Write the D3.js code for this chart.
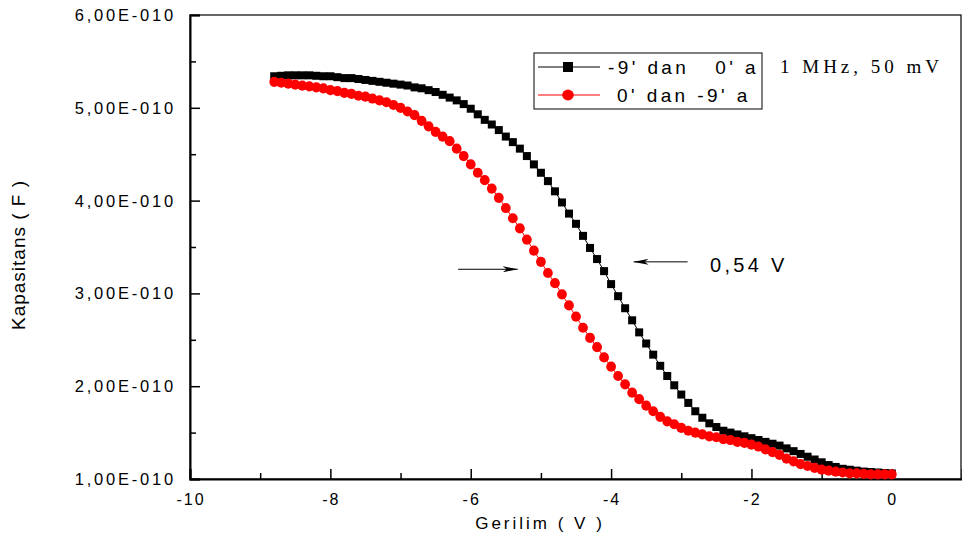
<!DOCTYPE html>
<html>
<head>
<meta charset="utf-8">
<script src="https://cdn.jsdelivr.net/npm/d3@7"></script>
<style>
body { margin: 0; background: #fff; }
svg { display: block; }
text { font-family: Arial, "Liberation Sans", sans-serif; fill: #000; }
</style>
</head>
<body>
<div id="chart"></div>
<script>
// voltage steps (V)
const voltage = [-8.8, -8.7, -8.6, -8.5, -8.4, -8.3, -8.2, -8.1, -8.0, -7.9,
  -7.8, -7.7, -7.6, -7.5, -7.4, -7.3, -7.2, -7.1, -7.0, -6.9,
  -6.8, -6.7, -6.6, -6.5, -6.4, -6.3, -6.2, -6.1, -6.0, -5.9,
  -5.8, -5.7, -5.6, -5.5, -5.4, -5.3, -5.2, -5.1, -5.0, -4.9,
  -4.8, -4.7, -4.6, -4.5, -4.4, -4.3, -4.2, -4.1, -4.0, -3.9,
  -3.8, -3.7, -3.6, -3.5, -3.4, -3.3, -3.2, -3.1, -3.0, -2.9,
  -2.8, -2.7, -2.6, -2.5, -2.4, -2.3, -2.2, -2.1, -2.0, -1.9,
  -1.8, -1.7, -1.6, -1.5, -1.4, -1.3, -1.2, -1.1, -1.0, -0.9,
  -0.8, -0.7, -0.6, -0.5, -0.4, -0.3, -0.2, -0.1, 0.0];

// capacitance, units of 1E-10 F
// -9'dan 0'a (black squares)
const capBlack = [5.34, 5.345, 5.35, 5.35, 5.35, 5.35, 5.345, 5.34, 5.34, 5.33,
  5.32, 5.32, 5.31, 5.30, 5.29, 5.28, 5.27, 5.26, 5.25, 5.24,
  5.22, 5.21, 5.19, 5.17, 5.14, 5.11, 5.08, 5.04, 4.99, 4.93,
  4.87, 4.82, 4.76, 4.69, 4.63, 4.56, 4.48, 4.39, 4.30, 4.21,
  4.10, 3.98, 3.86, 3.75, 3.62, 3.49, 3.37, 3.24, 3.10, 2.97,
  2.84, 2.71, 2.58, 2.46, 2.34, 2.22, 2.11, 2.01, 1.91, 1.82,
  1.73, 1.66, 1.60, 1.56, 1.52, 1.50, 1.48, 1.46, 1.44, 1.42,
  1.40, 1.38, 1.36, 1.33, 1.30, 1.27, 1.24, 1.21, 1.18, 1.15,
  1.13, 1.11, 1.10, 1.09, 1.08, 1.075, 1.07, 1.065, 1.06];
// 0'dan -9'a (red circles)
const capRed = [5.28, 5.27, 5.26, 5.25, 5.24, 5.23, 5.22, 5.21, 5.19, 5.18,
  5.16, 5.15, 5.13, 5.12, 5.10, 5.08, 5.06, 5.03, 5.00, 4.96,
  4.92, 4.86, 4.80, 4.74, 4.69, 4.64, 4.56, 4.48, 4.39, 4.30,
  4.22, 4.13, 4.03, 3.92, 3.81, 3.70, 3.58, 3.46, 3.34, 3.22,
  3.11, 2.99, 2.87, 2.75, 2.63, 2.52, 2.42, 2.31, 2.21, 2.11,
  2.02, 1.93, 1.86, 1.79, 1.73, 1.67, 1.62, 1.59, 1.55, 1.52,
  1.50, 1.48, 1.46, 1.45, 1.43, 1.42, 1.40, 1.39, 1.37, 1.35,
  1.32, 1.29, 1.26, 1.22, 1.19, 1.16, 1.14, 1.12, 1.10, 1.09,
  1.08, 1.07, 1.06, 1.06, 1.055, 1.05, 1.05, 1.05, 1.05];

const xTicks = [-10, -8, -6, -4, -2, 0];
const xMinor = [-9, -7, -5, -3, -1, 1];
const yTicks = [1, 2, 3, 4, 5, 6];
const yTickLabels = ["1,00E-010", "2,00E-010", "3,00E-010", "4,00E-010", "5,00E-010", "6,00E-010"];
const yMinor = [1.5, 2.5, 3.5, 4.5, 5.5];
const seriesNames = ["-9' dan   0' a", "0' dan -9' a"];

var svgWidth = 962, svgHeight = 554;

var svg = d3.select("#chart").append("svg")
  .attr("width", svgWidth).attr("height", svgHeight);

var x = d3.scaleLinear().domain([-10, 1]).range([190, 962]);
var y = d3.scaleLinear().domain([1, 6]).range([479, 15]);

// frame
svg.append("rect")
  .attr("x", x(-10)).attr("y", y(6))
  .attr("width", x(1) - x(-10) - 1).attr("height", y(1) - y(6))
  .attr("fill", "none").attr("stroke", "#000").attr("stroke-width", 1.2);

// bottom axis (ticks inward)
var xAxis = svg.append("g").attr("transform", "translate(0," + y(1) + ")")
  .call(d3.axisBottom(x).tickValues(xTicks).tickSize(-10).tickFormat(""));
xAxis.select(".domain").attr("stroke-width", 2);
xAxis.selectAll(".tick line").attr("stroke-width", 1.5);
svg.append("g").attr("transform", "translate(0," + y(1) + ")")
  .call(d3.axisBottom(x).tickValues(xMinor).tickSize(-6).tickFormat(""))
  .call(g => g.select(".domain").remove())
  .selectAll(".tick line").attr("stroke-width", 1.5);
svg.selectAll(".xlab").data(xTicks).enter().append("text")
  .attr("class", "xlab")
  .attr("x", d => x(d) + 1).attr("y", 505)
  .attr("text-anchor", "middle")
  .style("font-size", "16px").style("letter-spacing", "2px")
  .text(d => d);

// left axis
var yAxis = svg.append("g").attr("transform", "translate(" + x(-10) + ",0)")
  .call(d3.axisLeft(y).tickValues(yTicks).tickSize(-10).tickFormat(""));
yAxis.select(".domain").attr("stroke-width", 2);
yAxis.selectAll(".tick line").attr("stroke-width", 1.5);
svg.append("g").attr("transform", "translate(" + x(-10) + ",0)")
  .call(d3.axisLeft(y).tickValues(yMinor).tickSize(-6).tickFormat(""))
  .call(g => g.select(".domain").remove())
  .selectAll(".tick line").attr("stroke-width", 1.5);
svg.selectAll(".ylab").data(yTicks).enter().append("text")
  .attr("class", "ylab")
  .attr("x", 176).attr("y", d => y(d) + 6)
  .attr("text-anchor", "end")
  .style("font-size", "16.5px").style("letter-spacing", "2.8px")
  .text((d, i) => yTickLabels[i]);

// axis titles
svg.append("text")
  .attr("x", 540).attr("y", 529)
  .attr("text-anchor", "middle")
  .style("font-size", "17px").style("letter-spacing", "3px")
  .text("Gerilim ( V )");
svg.append("text")
  .attr("transform", "translate(25,255) rotate(-90)")
  .attr("text-anchor", "middle")
  .style("font-size", "19px").style("letter-spacing", "1px")
  .text("Kapasitans ( F )");

// data
var dataBlack = voltage.map((v, i) => ({x: v, y: capBlack[i]}));
var dataRed = voltage.map((v, i) => ({x: v, y: capRed[i]}));
var line = d3.line().x(d => x(d.x)).y(d => y(d.y));

svg.append("path").datum(dataBlack)
  .attr("d", line).attr("fill", "none").attr("stroke", "#000").attr("stroke-width", 1);
svg.append("g").selectAll("rect").data(dataBlack).enter().append("rect")
  .attr("x", d => x(d.x) - 4).attr("y", d => y(d.y) - 4)
  .attr("width", 8).attr("height", 8)
  .attr("fill", "#000");

svg.append("path").datum(dataRed)
  .attr("d", line).attr("fill", "none").attr("stroke", "#ff0000").attr("stroke-width", 1);
svg.append("g").selectAll("ellipse").data(dataRed).enter().append("ellipse")
  .attr("cx", d => x(d.x)).attr("cy", d => y(d.y))
  .attr("rx", 4.9).attr("ry", 5.1)
  .attr("fill", "#ff0000");

// legend
var legend = svg.append("g");
legend.append("rect")
  .attr("x", 534).attr("y", 53).attr("width", 228).attr("height", 56)
  .attr("fill", "#fff").attr("stroke", "#000").attr("stroke-width", 1);
legend.append("line").attr("x1", 538).attr("x2", 600).attr("y1", 67).attr("y2", 67)
  .attr("stroke", "#000").attr("stroke-width", 1);
legend.append("rect").attr("x", 563).attr("y", 62).attr("width", 10).attr("height", 10)
  .attr("fill", "#000");
legend.append("line").attr("x1", 538).attr("x2", 600).attr("y1", 95).attr("y2", 95)
  .attr("stroke", "#ff0000").attr("stroke-width", 1);
legend.append("ellipse").attr("cx", 568).attr("cy", 95).attr("rx", 5.8).attr("ry", 5.4)
  .attr("fill", "#ff0000");
legend.append("text").attr("x", 608).attr("y", 74)
  .style("font-size", "19px").style("letter-spacing", "3.4px").style("white-space", "pre")
  .attr("xml:space", "preserve")
  .text(seriesNames[0]);
legend.append("text").attr("x", 617).attr("y", 102)
  .style("font-size", "19px").style("letter-spacing", "3.4px").style("white-space", "pre")
  .attr("xml:space", "preserve")
  .text(seriesNames[1]);

svg.append("text").attr("x", 780).attr("y", 73)
  .style("font-family", "'Times New Roman', 'Liberation Serif', serif")
  .style("font-size", "19px").style("letter-spacing", "4px")
  .text("1 MHz, 50 mV");

// arrows + annotation
var defs = svg.append("defs");
defs.append("marker").attr("id", "arr").attr("viewBox", "0 0 15 6")
  .attr("refX", 15).attr("refY", 3).attr("markerWidth", 15).attr("markerHeight", 6)
  .attr("markerUnits", "userSpaceOnUse").attr("orient", "auto")
  .append("path").attr("d", "M0,0 L15,3 L0,6 L4,3 Z").attr("fill", "#000");

svg.append("line")
  .attr("x1", x(-6.18)).attr("y1", y(3.26)).attr("x2", x(-5.33)).attr("y2", y(3.26))
  .attr("stroke", "#000").attr("stroke-width", 1).attr("marker-end", "url(#arr)");
svg.append("line")
  .attr("x1", x(-2.91)).attr("y1", y(3.34)).attr("x2", x(-3.68)).attr("y2", y(3.34))
  .attr("stroke", "#000").attr("stroke-width", 1).attr("marker-end", "url(#arr)");
svg.append("text")
  .attr("x", x(-2.59)).attr("y", y(3.23))
  .style("font-size", "20px").style("letter-spacing", "3.3px")
  .text("0,54 V");
</script>
</body>
</html>
